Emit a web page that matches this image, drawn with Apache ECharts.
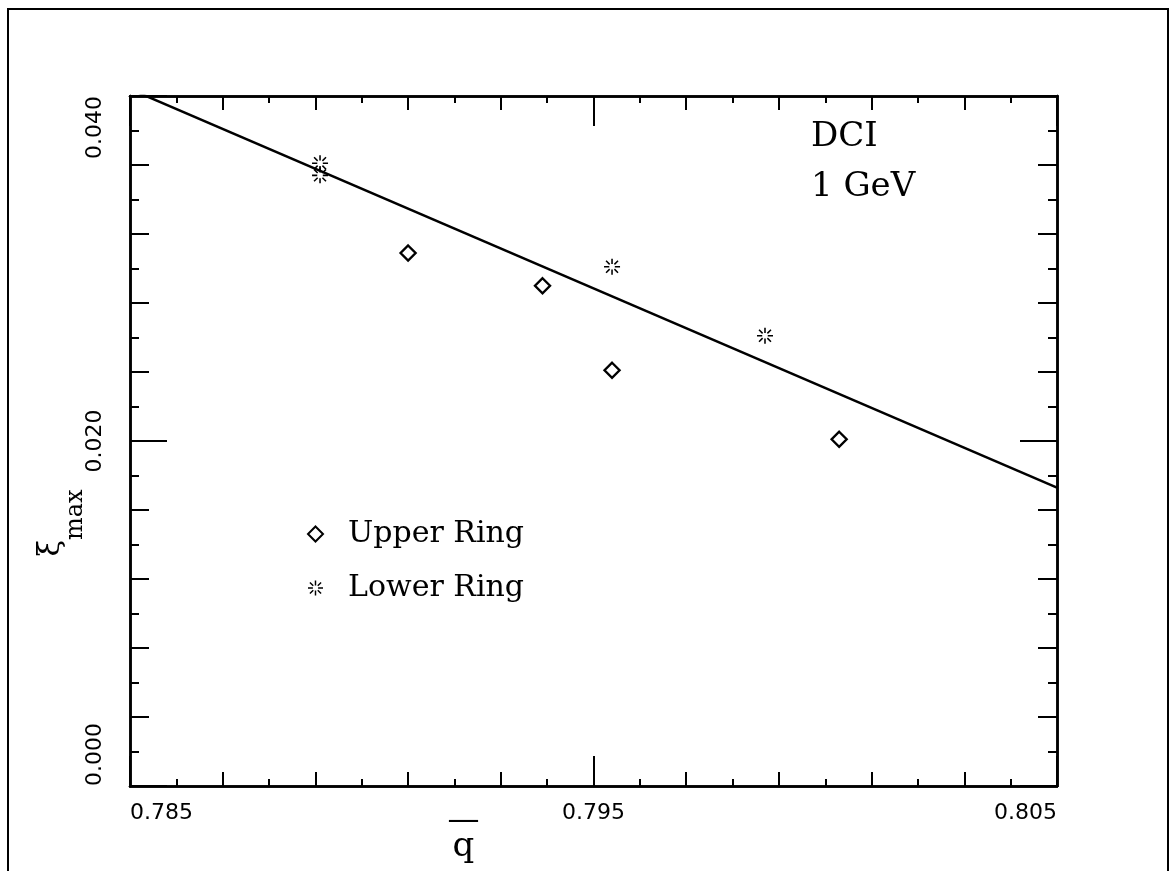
<!DOCTYPE html>
<html>
<head>
<meta charset="utf-8">
<script src="https://cdn.jsdelivr.net/npm/echarts@6/dist/echarts.min.js"></script>
<style>
html,body{margin:0;padding:0;background:#fff;}
#chart{width:1170px;height:871px;}
</style>
</head>
<body>
<div id="chart"></div>
<script>
// ---- data ----
const upperX = [0.7910, 0.7939, 0.7954, 0.8003];
const upperY = [0.0309, 0.0290, 0.0241, 0.0201];
const lowerX = [0.7891, 0.7891, 0.7954, 0.7987];
const lowerY = [0.0361, 0.0354, 0.0301, 0.0261];
const fitX = [0.785, 0.805];
const fitY = [0.0404, 0.0173];
const xTickLabels = ['0.785', '0.795', '0.805'];
const yTickLabels = ['0.000', '0.020', '0.040'];
const seriesNames = ['Upper Ring', 'Lower Ring'];
const annotation = ['DCI', '1 GeV'];

const asterisk = 'path://M45.5,4L54.5,4L54.5,34L45.5,34Z M45.5,66L54.5,66L54.5,96L45.5,96Z M4,45.5L34,45.5L34,54.5L4,54.5Z M66,45.5L96,45.5L96,54.5L66,54.5Z ' +
  'M18.8,12.6L39.4,33.2L33.2,39.4L12.6,18.8Z M81.2,12.6L60.6,33.2L66.8,39.4L87.4,18.8Z ' +
  'M18.8,87.4L39.4,66.8L33.2,60.6L12.6,81.2Z M81.2,87.4L60.6,66.8L66.8,60.6L87.4,81.2Z';

const X_MIN = 0.785, X_MAX = 0.805, Y_MIN = 0, Y_MAX = 0.040;
const gridRect = {left: 130, top: 96, right: 113, bottom: 85, containLabel: false, outerBoundsMode: 'none'};
const lineStyle = {color: '#000', width: 2.5};
const sansLabel = {fontFamily: '"DejaVu Sans"', fontSize: 22, color: '#000'};

function pairs(xs, ys) { return xs.map((x, i) => [x, ys[i]]); }

function xAx(grid, pos, interval, len, minorLen, labels) {
  return {
    type: 'value', gridIndex: grid, position: pos, min: X_MIN, max: X_MAX, interval: interval,
    axisLine: {show: true, onZero: false, lineStyle: lineStyle},
    axisTick: {show: true, inside: true, length: len, lineStyle: {color: '#000', width: 2}},
    minorTick: minorLen ? {show: true, splitNumber: 2, length: minorLen, lineStyle: {color: '#000', width: 2}} : {show: false},
    splitLine: {show: false},
    axisLabel: labels ? Object.assign({show: true, margin: 16, showMinLabel: true, showMaxLabel: true,
      alignMinLabel: 'left', alignMaxLabel: 'right',
      formatter: (v, i) => xTickLabels[i]}, sansLabel) : {show: false}
  };
}
function yAx(grid, pos, interval, len, minorLen, labels) {
  return {
    type: 'value', gridIndex: grid, position: pos, min: Y_MIN, max: Y_MAX, interval: interval,
    axisLine: {show: true, onZero: false, lineStyle: lineStyle},
    axisTick: {show: true, inside: true, length: len, lineStyle: {color: '#000', width: 2}},
    minorTick: minorLen ? {show: true, splitNumber: 2, length: minorLen, lineStyle: {color: '#000', width: 2}} : {show: false},
    splitLine: {show: false},
    axisLabel: labels ? Object.assign({show: true, rotate: 90, margin: 24, showMinLabel: true, showMaxLabel: true,
      alignMinLabel: 'left', alignMaxLabel: 'right',
      formatter: (v, i) => yTickLabels[i]}, sansLabel) : {show: false}
  };
}

const xAxes = [
  xAx(0, 'bottom', 0.002, 14, 7, false),
  xAx(0, 'top', 0.002, 14, 7, false),
  xAx(1, 'bottom', 0.01, 30, 0, true),
  xAx(1, 'top', 0.01, 30, 0, false)
];
xAxes[2].name = '{bar|—}\n{q|q}';
xAxes[2].nameLocation = 'middle';
xAxes[2].nameGap = 27;
xAxes[2].nameMoveOverlap = false;
xAxes[2].nameTextStyle = {
  padding: [0, 260, 0, 0],
  rich: {
    bar: {fontFamily: '"DejaVu Serif"', fontSize: 32, lineHeight: 16, color: '#000'},
    q: {fontFamily: '"DejaVu Serif"', fontSize: 34, lineHeight: 36, color: '#000'}
  }
};
const yAxes = [
  yAx(0, 'left', 0.004, 19, 9, false),
  yAx(0, 'right', 0.004, 19, 9, false),
  yAx(1, 'left', 0.02, 37, 0, true),
  yAx(1, 'right', 0.02, 37, 0, false)
];
yAxes[2].name = '{xi|ξ}{sub|max}';
yAxes[2].nameLocation = 'middle';
yAxes[2].nameRotate = 90;
yAxes[2].nameGap = 64;
yAxes[2].nameMoveOverlap = false;
yAxes[2].nameTextStyle = {
  padding: [0, 164, 0, 0],
  rich: {
    xi: {fontFamily: '"DejaVu Serif"', fontSize: 30, lineHeight: 30, verticalAlign: 'top', color: '#000'},
    sub: {fontFamily: '"DejaVu Serif"', fontSize: 24, lineHeight: 24, padding: [28, 0, 0, 0], verticalAlign: 'top', color: '#000'}
  }
};

const option = {
  animation: false,
  backgroundColor: '#fff',
  grid: [Object.assign({}, gridRect), Object.assign({}, gridRect)],
  xAxis: xAxes,
  yAxis: yAxes,
  legend: {
    data: seriesNames,
    orient: 'vertical',
    left: 302, top: 514,
    itemWidth: 15, itemHeight: 15, itemGap: 24,
    textStyle: {fontFamily: '"DejaVu Serif"', fontSize: 30, color: '#000', padding: [0, 0, 0, 20]}
  },
  graphic: [
    {type: 'rect', silent: true, shape: {x: 8, y: 9, width: 1160, height: 900},
     style: {fill: 'none', stroke: '#000', lineWidth: 2}},
    {type: 'text', left: 811, top: 120, style: {text: annotation[0], font: '34px "DejaVu Serif"', fill: '#000'}},
    {type: 'text', left: 811, top: 170, style: {text: annotation[1], font: '34px "DejaVu Serif"', fill: '#000'}}
  ],
  series: [
    {
      name: 'fit', type: 'line', xAxisIndex: 0, yAxisIndex: 0,
      data: pairs(fitX, fitY), showSymbol: false, symbol: 'none', clip: true,
      lineStyle: {color: '#000', width: 2.5}, silent: true
    },
    {
      name: seriesNames[0], type: 'scatter', xAxisIndex: 0, yAxisIndex: 0,
      data: pairs(upperX, upperY), symbol: 'diamond', symbolSize: 15,
      itemStyle: {color: '#fff', borderColor: '#000', borderWidth: 2.4, opacity: 1}
    },
    {
      name: seriesNames[1], type: 'scatter', xAxisIndex: 0, yAxisIndex: 0,
      data: pairs(lowerX, lowerY), symbol: asterisk, symbolSize: 16,
      itemStyle: {color: '#000', borderWidth: 0, opacity: 1}
    }
  ]
};

const chart = echarts.init(document.getElementById('chart'), null, {renderer: 'canvas'});
chart.setOption(option);
</script>
</body>
</html>
